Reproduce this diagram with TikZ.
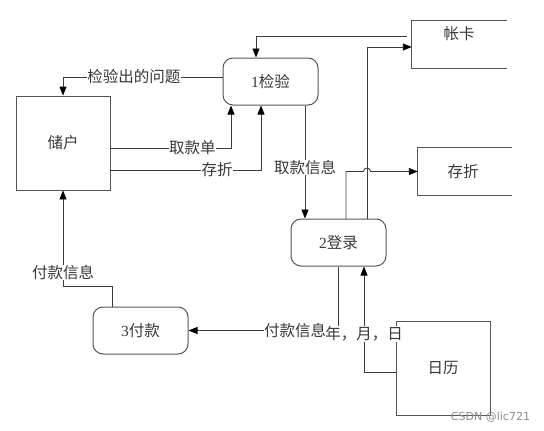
\documentclass[tikz,border=0pt]{standalone}
\usepackage{fontspec}
\setmainfont{Liberation Serif}
\newfontfamily\cjk{Noto Sans CJK SC}
\newfontfamily\lat{Liberation Serif}
\usetikzlibrary{arrows.meta,calc}
\definecolor{lnc}{HTML}{3C3C3C}
\definecolor{bxc}{HTML}{555555}
\definecolor{txc}{HTML}{383838}
\tikzset{
  txt/.style={font=\cjk\fontsize{15.5}{17}\selectfont, text=txc},
  proc/.style={txt, draw=bxc, line width=1pt, rounded corners=10pt, minimum width=95pt, minimum height=47pt, inner sep=0pt},
  ent/.style={txt, draw=bxc, line width=0.9pt, minimum width=94pt, minimum height=94pt, inner sep=0pt},
  store/.style={minimum width=95pt, minimum height=47pt, inner sep=0pt},
  storeline/.style={draw=bxc, line width=1pt},
  flow/.style={draw=lnc, line width=0.9pt, -{Triangle[length=9pt,width=7pt,color=black]}},
  plain/.style={draw=lnc, line width=0.9pt},
  lab/.style={txt, fill=white, inner sep=0.5pt}
}
\begin{document}
\begin{tikzpicture}[x=1pt,y=-1pt]
\useasboundingbox (0,0) rectangle (544,431);
% nodes
\node[ent] (cu) at (63,143) {储户};
\node[proc] (jy) at (270.5,81.5) {{\lat 1}检验};
\node[store] (zk) at (459.5,44.5) {};
\node[txt] (zkt) at (459,34) {帐卡};
\node[store, minimum width=94pt] (zc) at (465,171.5) {};
\node[txt] (zct) at (463,172) {存折};
\node[proc] (dl) at (338.5,242.5) {{\lat 2}登录};
\node[proc] (fk) at (140.5,330.5) {{\lat 3}付款};
\node[ent] (rl) at (443,368) {日历};
\draw[storeline] (zk.north east) -- (zk.north west) -- (zk.south west) -- (zk.south east);
\draw[storeline] (zc.north east) -- (zc.north west) -- (zc.south west) -- (zc.south east);
% connectors
\coordinate (zkout) at ($(zk.west)+(-5,-8.5)$);
\draw[flow] (zkout) -| ([xshift=-14.5pt]jy.north);
\draw[flow] ([yshift=4.5pt]jy.west) -| node[lab, pos=0.278] (l1) {检验出的问题} (cu.north);
\draw[flow] ([yshift=-5pt]cu.east) -| node[lab, pos=0.34] (l2) {取款单} ([xshift=-39.5pt]jy.south);
\draw[flow] ([yshift=-27pt]cu.east) -| node[lab, pos=0.354] (l3) {存折} ([xshift=-9.5pt]jy.south);
\draw[flow] ([xshift=34.5pt]jy.south) -- node[lab, pos=0.55] (l4) {取款信息} ([xshift=34.5pt]jy.south |- dl.north);
\draw[flow] ([xshift=28.5pt]dl.north) |- ([yshift=-2.5pt]zk.west);
\coordinate (jmp) at ([xshift=28.5pt]dl.north |- zc.west);
\draw[flow] ([xshift=7.5pt]dl.north) |- ([xshift=-3.5pt]jmp) arc[start angle=180, end angle=0, radius=3.5pt] -- (zc.west);
\draw[flow] ([xshift=-0.5pt]dl.south) |- node[lab, pos=0.643] (l5) {付款信息} (fk.east);
\draw[flow] ([yshift=-4pt]rl.west) -| node[lab, pos=0.68] (l6) {年，月，日} ([xshift=25.5pt]dl.south);
\coordinate (fkc) at ($(cu.south)+(0,96)$);
\draw[plain] ([xshift=-28.5pt]fk.north) |- (fkc);
\draw[flow] (fkc) -- node[lab, pos=0.146] (l7) {付款信息} (cu.south);
% watermark
\node[font=\fontspec{DejaVu Sans}\fontsize{11}{12}\selectfont, text=black!45] (wm) at (490.5,417) {CSDN @lic721};
\end{tikzpicture}
\end{document}
